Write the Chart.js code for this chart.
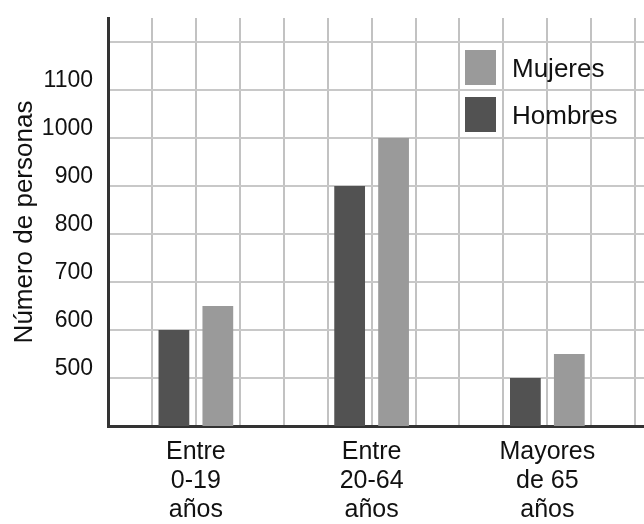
<!DOCTYPE html>
<html lang="es">
<head>
    <meta charset="UTF-8">
    <title>Número de personas por edad</title>
    <style>
        body {
            margin: 0;
            background: #ffffff;
        }
        #chart {
            display: block;
        }
    </style>
    <script src="https://cdn.jsdelivr.net/npm/chart.js"></script>
</head>
<body>
    <canvas id="chart" width="644" height="524"></canvas>

    <script>
        // datos
        const categories = [
            ['Entre', '0-19', 'años'],
            ['Entre', '20-64', 'años'],
            ['Mayores', 'de 65', 'años']
        ];
        const hombres = [600, 900, 500];
        const mujeres = [650, 1000, 550];
        const yTicks = [500, 600, 700, 800, 900, 1000, 1100];

        const fontFamily = '"Liberation Sans", Arial, sans-serif';
        Chart.defaults.font.family = fontFamily;
        Chart.defaults.color = '#111111';

        // leyenda dibujada dentro del area del grafico (arriba a la derecha)
        const insideLegend = {
            id: 'insideLegend',
            afterDraw(chart) {
                const ctx = chart.ctx;
                const area = chart.chartArea;
                const items = chart.data.datasets.slice().reverse();
                ctx.save();
                ctx.font = '26px ' + fontFamily;
                ctx.textBaseline = 'middle';
                ctx.textAlign = 'left';
                items.forEach((ds, i) => {
                    const x = area.right - 179;
                    const y = area.top + 32 + i * 47;
                    ctx.fillStyle = ds.backgroundColor;
                    ctx.fillRect(x, y, 31, 35);
                    ctx.fillStyle = '#111111';
                    ctx.fillText(ds.label, x + 47, y + 20);
                });
                ctx.restore();
            }
        };

        const chart = new Chart(document.getElementById('chart'), {
            type: 'bar',
            data: {
                datasets: [{
                    label: 'Hombres',
                    data: hombres.map((v, i) => ({ x: i, y: v })),
                    backgroundColor: '#525252'
                }, {
                    label: 'Mujeres',
                    data: mujeres.map((v, i) => ({ x: i, y: v })),
                    backgroundColor: '#9a9a9a'
                }]
            },
            options: {
                responsive: false,
                animation: false,
                // ancho de grupo relativo a la separacion de la cuadricula (0.25)
                categoryPercentage: 2,
                barPercentage: 0.7,
                layout: {
                    padding: { top: 18, right: 0, bottom: 0, left: 0 }
                },
                plugins: {
                    legend: { display: false },
                    tooltip: { enabled: false }
                },
                scales: {
                    x: {
                        type: 'linear',
                        min: -0.5,
                        max: 2.55,
                        bounds: 'data',
                        offset: false,
                        afterBuildTicks: (scale) => {
                            // solo multiplos de 0.25, sin el tick extra del borde
                            scale.ticks = scale.ticks.filter(t => Math.abs(t.value * 4 - Math.round(t.value * 4)) < 1e-6);
                        },
                        afterFit: (scale) => {
                            scale.height = 98;
                            scale.paddingLeft = 0;
                            scale.paddingRight = 0;
                        },
                        grid: {
                            color: '#c2c2c2',
                            lineWidth: 2,
                            offset: false,
                            drawTicks: false
                        },
                        border: { color: '#333333', width: 3 },
                        ticks: {
                            stepSize: 0.25,
                            maxTicksLimit: 20,
                            includeBounds: false,
                            autoSkip: false,
                            maxRotation: 0,
                            minRotation: 0,
                            padding: 12,
                            color: '#111111',
                            font: { size: 25, lineHeight: 1.16 },
                            callback: (value) => {
                                if (Number.isInteger(value) && categories[value]) {
                                    return categories[value];
                                }
                                return '';
                            }
                        }
                    },
                    y: {
                        min: 400,
                        max: 1250,
                        bounds: 'data',
                        afterBuildTicks: (scale) => {
                            scale.ticks = scale.ticks.filter(t => t.value % 100 === 0);
                        },
                        afterFit: (scale) => {
                            scale.width = 108;
                            scale.paddingTop = 0;
                            scale.paddingBottom = 0;
                        },
                        grid: {
                            color: '#c8c8c8',
                            lineWidth: 2,
                            drawTicks: false
                        },
                        border: { color: '#333333', width: 3 },
                        title: {
                            display: true,
                            text: 'Número de personas',
                            color: '#111111',
                            font: { size: 26 },
                            padding: { top: 9, bottom: 0 }
                        },
                        ticks: {
                            stepSize: 100,
                            includeBounds: false,
                            padding: 15,
                            labelOffset: -9,
                            color: '#111111',
                            font: { size: 23 },
                            callback: (value) => yTicks.includes(value) ? String(value) : ''
                        }
                    }
                }
            },
            plugins: [insideLegend]
        });
    </script>
</body>
</html>
